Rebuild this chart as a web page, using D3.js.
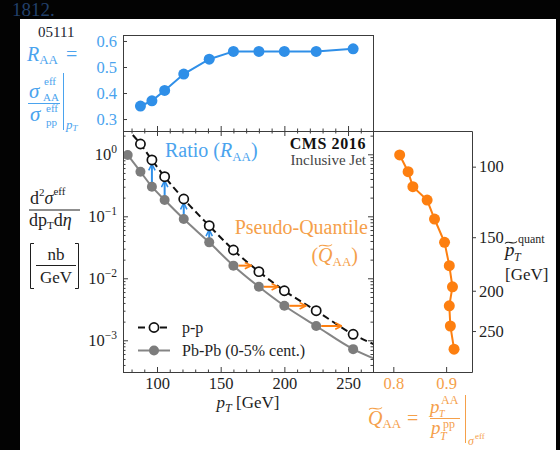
<!DOCTYPE html>
<html>
<head>
<meta charset="utf-8">
<script src="https://cdn.jsdelivr.net/npm/d3@7"></script>
<style>
  body { margin: 0; background: #000; }
  svg { display: block; font-family: "Liberation Serif", "DejaVu Serif", serif; }
</style>
</head>
<body>
<svg id="chart" width="560" height="450"></svg>
<script>
// ---- data ----
const pbpbPt = [77, 87, 96, 106, 121, 141, 160, 180, 200, 225, 254];
const pbpbSigma = [0.975, 0.524, 0.30, 0.183, 0.0904, 0.038, 0.016, 0.0073, 0.0036, 0.0017, 0.00072];
const ppPt = [87, 96, 106, 121, 141, 160, 180, 200, 225, 254];
const ppSigma = [1.466, 0.81, 0.435, 0.19, 0.0705, 0.0286, 0.0128, 0.0063, 0.0030, 0.00125];
const raa = [0.35, 0.37, 0.41, 0.473, 0.53, 0.56, 0.56, 0.56, 0.56, 0.57];
const qaa = [0.812, 0.828, 0.837, 0.864, 0.878, 0.897, 0.906, 0.912, 0.906, 0.908, 0.915];

// fitted curves, including the bits drawn past the points
const ppFitPt = [81, 87, 96, 106, 121, 141, 160, 180, 200, 225, 254, 270];
const ppFitSigma = [2.05, 1.466, 0.81, 0.435, 0.19, 0.0705, 0.0286, 0.0128, 0.0063, 0.0030, 0.00125, 0.00087];
const pbpbFitPt = [77, 87, 96, 106, 121, 141, 160, 180, 200, 225, 254, 270];
const pbpbFitSigma = [0.975, 0.524, 0.30, 0.183, 0.0904, 0.038, 0.016, 0.0073, 0.0036, 0.0017, 0.00072, 0.00051];

// arrows
const raaArrowPt = [96, 106, 121, 141];
const quantArrowFrom = [160, 180, 200, 225];
const quantArrowTo = [174, 195, 217, 245];

// ticks
const xTicks = [100, 150, 200, 250];
const xMinorTicks = [80, 90, 110, 120, 130, 140, 160, 170, 180, 190, 210, 220, 230, 240, 260];
const yTicks = [1, 0.1, 0.01, 0.001];
const raaTicks = [0.3, 0.4, 0.5, 0.6];
const qaaTicks = [0.8, 0.9];
const quantTicks = [100, 150, 200, 250];

const col = {
  blue: "#2f8fe8", blueText: "#4aa3ee",
  orange: "#fd7f10", orangeText: "#f5a04a",
  grey: "#7c7c7c", spine: "#3c3c3c", text: "#1e1e1e"
};

const svg = d3.select("#chart");

// background + white sheet
svg.append("rect").attr("width", 560).attr("height", 450).attr("fill", "#030303");
svg.append("rect").attr("x", 20).attr("y", 19).attr("width", 536).attr("height", 431).attr("fill", "#fff");

svg.append("text").attr("x", 12).attr("y", 16).attr("font-size", 19).attr("fill", "#22406a").text("1812.");
svg.append("text").attr("x", 38).attr("y", 37).attr("font-size", 15).attr("fill", "#1b2330").text("05111");

// panels
const main = { left: 123, right: 373, top: 131, bottom: 372 };
const topP = { left: 123, right: 373, top: 35, bottom: 131 };
const side = { left: 373, right: 472, top: 131, bottom: 372 };

const x = d3.scaleLinear().domain([73.3, 269.6]).range([main.left, main.right]);
const y = d3.scaleLog().domain([2.376, 0.000308]).range([main.top, main.bottom]);
const yR = d3.scaleLinear().domain([0.254, 0.623]).range([topP.bottom, topP.top]);
const xQ = d3.scaleLinear().domain([0.7615, 0.949]).range([side.left, side.right]);
// right axis: p_T of the pp curve at the same cross-section height
const yQuant = d3.scaleLinear().domain(ppPt).range(ppPt.map((p, i) => y(ppSigma[i])));

// arrow heads
const defs = svg.append("defs");
[["head-blue", col.blue], ["head-orange", col.orange]].forEach(([id, c]) => {
  defs.append("marker")
      .attr("id", id)
      .attr("viewBox", "0 0 10 10")
      .attr("refX", 9).attr("refY", 5)
      .attr("markerWidth", 8).attr("markerHeight", 8)
      .attr("markerUnits", "userSpaceOnUse")
      .attr("orient", "auto")
    .append("path")
      .attr("d", "M1,1 L9,5 L1,9")
      .attr("fill", "none")
      .attr("stroke", c)
      .attr("stroke-width", 2);
});
defs.append("clipPath").attr("id", "clip-main")
  .append("rect")
    .attr("x", main.left).attr("y", main.top)
    .attr("width", main.right - main.left).attr("height", main.bottom - main.top);

function styleAxis(g, color) {
  g.select(".domain").remove();
  g.selectAll("line").attr("stroke", col.spine);
  g.selectAll("text")
    .attr("font-family", "Liberation Serif, serif")
    .attr("font-size", 16.5)
    .attr("fill", color || col.text);
}

// ---- main panel ----
const gMain = svg.append("g");

gMain.append("g").attr("transform", `translate(0,${main.bottom})`)
    .call(d3.axisBottom(x).tickValues(xTicks).tickSize(-5).tickPadding(5))
    .call(styleAxis);
gMain.append("g").attr("transform", `translate(0,${main.bottom})`)
    .call(d3.axisBottom(x).tickValues(xMinorTicks).tickSize(-2.5).tickFormat(""))
    .call(styleAxis);
gMain.append("g").attr("transform", `translate(0,${main.top})`)
    .call(d3.axisTop(x).tickValues(xTicks).tickSize(-5).tickFormat(""))
    .call(styleAxis);
gMain.append("g").attr("transform", `translate(0,${main.top})`)
    .call(d3.axisTop(x).tickValues(xMinorTicks).tickSize(-2.5).tickFormat(""))
    .call(styleAxis);

const yMinor = y.ticks().filter(v => !yTicks.includes(v));
const yAxisG = gMain.append("g").attr("transform", `translate(${main.left},0)`)
    .call(d3.axisLeft(y).tickValues(yTicks).tickSize(-5).tickPadding(6).tickFormat(""))
    .call(styleAxis);
yAxisG.selectAll(".tick text").each(function(d) {
  const e = Math.round(Math.log10(d));
  const t = d3.select(this);
  t.append("tspan").text("10");
  t.append("tspan").attr("font-size", 11.5).attr("dy", -7).text(e < 0 ? "\u2212" + (-e) : e);
});
gMain.append("g").attr("transform", `translate(${main.left},0)`)
    .call(d3.axisLeft(y).tickValues(yMinor).tickSize(-2.5).tickFormat(""))
    .call(styleAxis);
gMain.append("g").attr("transform", `translate(${main.right},0)`)
    .call(d3.axisRight(y).tickValues(yTicks).tickSize(-5).tickFormat(""))
    .call(styleAxis);
gMain.append("g").attr("transform", `translate(${main.right},0)`)
    .call(d3.axisRight(y).tickValues(yMinor).tickSize(-2.5).tickFormat(""))
    .call(styleAxis);

const plot = gMain.append("g").attr("clip-path", "url(#clip-main)");

const fitLine = d3.line()
    .x(d => x(d[0]))
    .y(d => y(d[1]))
    .curve(d3.curveMonotoneX);

plot.append("path")
    .datum(pbpbFitPt.map((p, i) => [p, pbpbFitSigma[i]]))
    .attr("d", fitLine)
    .attr("fill", "none")
    .attr("stroke", "#858585")
    .attr("stroke-width", 2);

plot.append("path")
    .datum(ppFitPt.map((p, i) => [p, ppFitSigma[i]]))
    .attr("d", fitLine)
    .attr("fill", "none")
    .attr("stroke", "#111")
    .attr("stroke-width", 2)
    .attr("stroke-dasharray", "7,4");

// R_AA arrows: Pb-Pb point up to the p-p point
plot.selectAll(".raa-arrow")
  .data(raaArrowPt)
  .enter().append("line")
    .attr("class", "raa-arrow")
    .attr("x1", d => x(d)).attr("x2", d => x(d))
    .attr("y1", d => y(pbpbSigma[pbpbPt.indexOf(d)]) - 4)
    .attr("y2", d => y(ppSigma[ppPt.indexOf(d)]) + 4)
    .attr("stroke", col.blue)
    .attr("stroke-width", 2)
    .attr("marker-end", "url(#head-blue)");

// quantile arrows: Pb-Pb point across to where p-p has the same value
plot.selectAll(".q-arrow")
  .data(quantArrowFrom)
  .enter().append("line")
    .attr("class", "q-arrow")
    .attr("x1", d => x(d) + 5)
    .attr("x2", (d, i) => x(quantArrowTo[i]))
    .attr("y1", d => y(pbpbSigma[pbpbPt.indexOf(d)]))
    .attr("y2", d => y(pbpbSigma[pbpbPt.indexOf(d)]))
    .attr("stroke", col.orange)
    .attr("stroke-width", 2)
    .attr("marker-end", "url(#head-orange)");

plot.selectAll(".pbpb")
  .data(pbpbPt)
  .enter().append("circle")
    .attr("class", "pbpb")
    .attr("cx", d => x(d))
    .attr("cy", (d, i) => y(pbpbSigma[i]))
    .attr("r", 5)
    .attr("fill", col.grey);

plot.selectAll(".pp")
  .data(ppPt)
  .enter().append("circle")
    .attr("class", "pp")
    .attr("cx", d => x(d))
    .attr("cy", (d, i) => y(ppSigma[i]))
    .attr("r", 4.6)
    .attr("fill", "#fff")
    .attr("stroke", "#111")
    .attr("stroke-width", 1.7);

gMain.append("rect")
    .attr("x", main.left + 0.5).attr("y", main.top + 0.5)
    .attr("width", main.right - main.left).attr("height", main.bottom - main.top)
    .attr("fill", "none").attr("stroke", col.spine);

// legend
const leg = gMain.append("g");
leg.append("line").attr("x1", 138).attr("x2", 170).attr("y1", 327.5).attr("y2", 327.5)
    .attr("stroke", "#111").attr("stroke-width", 2).attr("stroke-dasharray", "7,4");
leg.append("circle").attr("cx", 154).attr("cy", 327.5).attr("r", 4.6)
    .attr("fill", "#fff").attr("stroke", "#111").attr("stroke-width", 1.7);
leg.append("text").attr("x", 182).attr("y", 333).attr("font-size", 16).attr("fill", col.text).text("p-p");
leg.append("line").attr("x1", 138).attr("x2", 170).attr("y1", 350.5).attr("y2", 350.5)
    .attr("stroke", "#858585").attr("stroke-width", 2);
leg.append("circle").attr("cx", 154).attr("cy", 350.5).attr("r", 5).attr("fill", col.grey);
leg.append("text").attr("x", 182).attr("y", 356).attr("font-size", 16).attr("fill", col.text).text("Pb-Pb (0-5% cent.)");

// annotations
gMain.append("text").attr("x", 366).attr("y", 149).attr("text-anchor", "end")
    .attr("font-size", 16).attr("font-weight", "bold").attr("letter-spacing", 0.6)
    .attr("fill", "#111").text("CMS 2016");
gMain.append("text").attr("x", 366).attr("y", 165).attr("text-anchor", "end")
    .attr("font-size", 15).attr("fill", "#444").text("Inclusive Jet");

const ratioT = gMain.append("text").attr("x", 165).attr("y", 157)
    .attr("font-size", 20).attr("fill", col.blueText);
ratioT.append("tspan").text("Ratio (");
ratioT.append("tspan").attr("font-style", "italic").text("R");
ratioT.append("tspan").attr("font-size", 13).attr("dy", 4).text("AA");
ratioT.append("tspan").attr("dy", -4).text(")");

gMain.append("text").attr("x", 368).attr("y", 234).attr("text-anchor", "end")
    .attr("font-size", 20).attr("fill", col.orangeText).text("Pseudo-Quantile");
const qT = gMain.append("text").attr("x", 358).attr("y", 262).attr("text-anchor", "end")
    .attr("font-size", 20).attr("fill", col.orangeText);
qT.append("tspan").text("(");
qT.append("tspan").attr("font-style", "italic").text("Q");
qT.append("tspan").attr("font-size", 13).attr("dy", 4).text("AA");
qT.append("tspan").attr("dy", -4).text(")");

function tilde(g, x0, y0, w, c) {
  g.append("path")
      .attr("d", `M${x0},${y0 + 1.5} C${x0 + w * 0.3},${y0 - 2.5} ${x0 + w * 0.7},${y0 + 4} ${x0 + w},${y0 - 0.5}`)
      .attr("fill", "none").attr("stroke", c).attr("stroke-width", 1.1);
}
tilde(gMain, 319, 245, 13, col.orangeText);

// x label
const xl = svg.append("text").attr("x", 248).attr("y", 408).attr("text-anchor", "middle")
    .attr("font-size", 17).attr("fill", col.text);
xl.append("tspan").attr("font-style", "italic").text("p");
xl.append("tspan").attr("font-style", "italic").attr("font-size", 12).attr("dy", 4).text("T");
xl.append("tspan").attr("dy", -4).text(" [GeV]");

// y label (left)
const yl = svg.append("g").attr("fill", col.text);
const yn = yl.append("text").attr("x", 30).attr("y", 204).attr("font-size", 18);
yn.append("tspan").text("d");
yn.append("tspan").attr("font-size", 11).attr("dy", -8).text("2");
yn.append("tspan").attr("font-style", "italic").attr("dy", 8).text("\u03c3");
yn.append("tspan").attr("font-size", 11).attr("dy", -9).text("eff");
yl.append("line").attr("x1", 29).attr("x2", 80).attr("y1", 210).attr("y2", 210).attr("stroke", col.text).attr("stroke-width", 1);
const yd = yl.append("text").attr("x", 29).attr("y", 226).attr("font-size", 18);
yd.append("tspan").text("dp");
yd.append("tspan").attr("font-size", 11).attr("dy", 3).text("T");
yd.append("tspan").attr("dy", -3).text("d");
yd.append("tspan").attr("font-style", "italic").text("\u03b7");
yl.append("path").attr("d", "M34,243.5 H30.5 V288.5 H34 M75,243.5 H78.5 V288.5 H75")
    .attr("fill", "none").attr("stroke", col.text).attr("stroke-width", 1);
yl.append("text").attr("x", 56).attr("y", 260).attr("text-anchor", "middle").attr("font-size", 17).text("nb");
yl.append("line").attr("x1", 36).attr("x2", 76).attr("y1", 265.5).attr("y2", 265.5).attr("stroke", col.text).attr("stroke-width", 1);
yl.append("text").attr("x", 56).attr("y", 283).attr("text-anchor", "middle").attr("font-size", 17).text("GeV");

// ---- R_AA panel ----
const gTop = svg.append("g");
gTop.append("g").attr("transform", `translate(${topP.left},0)`)
    .call(d3.axisLeft(yR).tickValues(raaTicks).tickSize(-4).tickPadding(6).tickFormat(d3.format(".1f")))
    .call(g => styleAxis(g, col.blueText));
gTop.append("g").attr("transform", `translate(0,${topP.bottom})`)
    .call(d3.axisBottom(x).tickValues(xTicks).tickSize(-5).tickFormat(""))
    .call(styleAxis);
gTop.append("g").attr("transform", `translate(0,${topP.bottom})`)
    .call(d3.axisBottom(x).tickValues(xMinorTicks).tickSize(-2.5).tickFormat(""))
    .call(styleAxis);

gTop.append("path")
    .datum(ppPt.map((p, i) => [p, raa[i]]))
    .attr("d", d3.line().x(d => x(d[0])).y(d => yR(d[1])))
    .attr("fill", "none").attr("stroke", col.blue).attr("stroke-width", 2);
gTop.selectAll(".raa")
  .data(ppPt)
  .enter().append("circle")
    .attr("class", "raa")
    .attr("cx", d => x(d))
    .attr("cy", (d, i) => yR(raa[i]))
    .attr("r", 5.5)
    .attr("fill", col.blue);
gTop.append("rect")
    .attr("x", topP.left + 0.5).attr("y", topP.top + 0.5)
    .attr("width", topP.right - topP.left).attr("height", topP.bottom - topP.top)
    .attr("fill", "none").attr("stroke", col.spine);

// R_AA label
const rl = svg.append("g").attr("fill", col.blueText);
const r1 = rl.append("text").attr("x", 27).attr("y", 61).attr("font-size", 20);
r1.append("tspan").attr("font-style", "italic").text("R");
r1.append("tspan").attr("font-size", 13).attr("dy", 3).text("AA");
r1.append("tspan").attr("x", 66).attr("dy", -3).text("=");
rl.append("text").attr("x", 29).attr("y", 98).attr("font-size", 21).attr("font-style", "italic").text("\u03c3");
rl.append("text").attr("x", 44).attr("y", 85).attr("font-size", 11).text("eff");
rl.append("text").attr("x", 43).attr("y", 101).attr("font-size", 11).text("AA");
rl.append("line").attr("x1", 28).attr("x2", 60).attr("y1", 103.5).attr("y2", 103.5).attr("stroke", col.blueText).attr("stroke-width", 1);
rl.append("text").attr("x", 30).attr("y", 121).attr("font-size", 21).attr("font-style", "italic").text("\u03c3");
rl.append("text").attr("x", 46).attr("y", 112).attr("font-size", 11).text("eff");
rl.append("text").attr("x", 46).attr("y", 126).attr("font-size", 11).text("pp");
rl.append("line").attr("x1", 63.5).attr("x2", 63.5).attr("y1", 73).attr("y2", 130).attr("stroke", col.blueText).attr("stroke-width", 1);
const r2 = rl.append("text").attr("x", 66).attr("y", 129).attr("font-size", 13).attr("font-style", "italic");
r2.append("tspan").text("p");
r2.append("tspan").attr("font-size", 9).attr("dy", 2).text("T");

// ---- pseudo-quantile panel ----
const gSide = svg.append("g");
gSide.append("g").attr("transform", `translate(0,${side.bottom})`)
    .call(d3.axisBottom(xQ).tickValues(qaaTicks).tickSize(-5).tickPadding(5).tickFormat(d3.format(".1f")))
    .call(g => styleAxis(g, col.orangeText));
gSide.append("g").attr("transform", `translate(${side.right},0)`)
    .call(d3.axisRight(yQuant).tickValues(quantTicks).tickSize(4).tickPadding(3))
    .call(styleAxis);

gSide.append("path")
    .datum(qaa.map((q, i) => [q, pbpbSigma[i]]))
    .attr("d", d3.line().x(d => xQ(d[0])).y(d => y(d[1])))
    .attr("fill", "none").attr("stroke", col.orange).attr("stroke-width", 2);
gSide.selectAll(".qaa")
  .data(qaa)
  .enter().append("circle")
    .attr("class", "qaa")
    .attr("cx", d => xQ(d))
    .attr("cy", (d, i) => y(pbpbSigma[i]))
    .attr("r", 5.5)
    .attr("fill", col.orange);
gSide.append("path")
    .attr("d", `M${side.left},${side.top + 0.5} H${side.right + 0.5} V${side.bottom + 0.5} H${side.left}`)
    .attr("fill", "none").attr("stroke", col.spine);

// right axis label
const ql = svg.append("g").attr("fill", col.text);
const q1 = ql.append("text").attr("x", 505).attr("y", 256).attr("font-size", 19).attr("font-style", "italic");
q1.append("tspan").text("p");
ql.append("text").attr("x", 514).attr("y", 261).attr("font-size", 12).attr("font-style", "italic").text("T");
ql.append("text").attr("x", 518).attr("y", 243).attr("font-size", 12).text("quant");
tilde(ql, 505, 242, 12, col.text);
ql.append("text").attr("x", 505).attr("y", 280).attr("font-size", 17).text("[GeV]");

// Q_AA label
const ol = svg.append("g").attr("fill", col.orangeText);
const o1 = ol.append("text").attr("x", 368).attr("y", 425).attr("font-size", 20);
o1.append("tspan").attr("font-style", "italic").text("Q");
o1.append("tspan").attr("font-size", 13).attr("dy", 3).text("AA");
o1.append("tspan").attr("x", 407).attr("dy", -3).text("=");
tilde(ol, 369, 408, 13, col.orangeText);
ol.append("text").attr("x", 430).attr("y", 413).attr("font-size", 19).attr("font-style", "italic").text("p");
ol.append("text").attr("x", 441).attr("y", 404).attr("font-size", 12).text("AA");
ol.append("text").attr("x", 439).attr("y", 417).attr("font-size", 10).attr("font-style", "italic").text("T");
ol.append("line").attr("x1", 430).attr("x2", 460).attr("y1", 418.5).attr("y2", 418.5).attr("stroke", col.orangeText).attr("stroke-width", 1);
ol.append("text").attr("x", 431).attr("y", 434).attr("font-size", 19).attr("font-style", "italic").text("p");
ol.append("text").attr("x", 443).attr("y", 428).attr("font-size", 12).text("pp");
ol.append("text").attr("x", 440).attr("y", 440).attr("font-size", 12).attr("font-style", "italic").text("T");
ol.append("line").attr("x1", 465.5).attr("x2", 465.5).attr("y1", 395).attr("y2", 443).attr("stroke", col.orangeText).attr("stroke-width", 1);
ol.append("text").attr("x", 468).attr("y", 445).attr("font-size", 12).attr("font-style", "italic").text("\u03c3");
ol.append("text").attr("x", 475).attr("y", 439).attr("font-size", 9).text("eff");
</script>
</body>
</html>
